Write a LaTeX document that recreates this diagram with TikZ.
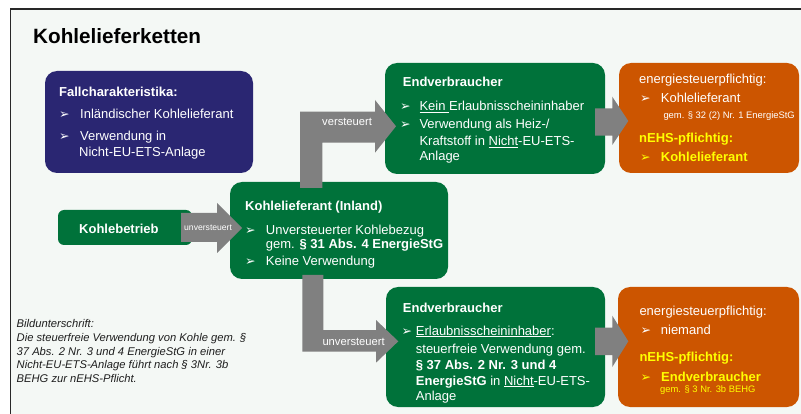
\documentclass[tikz,border=0pt]{standalone}
\usepackage{fontspec}
\setmainfont{Liberation Sans}
\newfontfamily\djv{DejaVu Sans}
\definecolor{bgc}{RGB}{244,248,245}
\definecolor{framec}{RGB}{40,40,40}
\definecolor{navyc}{RGB}{42,38,114}
\definecolor{greenc}{RGB}{0,114,58}
\definecolor{orangec}{RGB}{204,85,0}
\definecolor{grayc}{RGB}{128,128,128}
\definecolor{yellowc}{RGB}{255,255,0}
\definecolor{capc}{RGB}{30,30,30}
\newcommand{\mybul}{{\djv\fontsize{12.5}{12.5}\selectfont ➢}}
\tikzset{
  box/.style={rectangle, rounded corners=12pt, inner sep=0pt, draw=none},
  txt/.style={anchor=base west, inner sep=0pt, text=white, font=\fontsize{13}{13}\selectfont},
  btxt/.style={txt, font=\fontsize{13}{13}\selectfont\bfseries},
  ytxt/.style={btxt, text=yellowc},
  smalltxt/.style={txt, font=\fontsize{9.4}{9.4}\selectfont},
  arrtxt/.style={txt, font=\fontsize{11.2}{11.2}\selectfont},
  captxt/.style={anchor=base west, inner sep=0pt, text=capc, font=\fontsize{11.2}{11.2}\selectfont\itshape},
  blockarrow/.style={fill=grayc, draw=none}
}
\begin{document}
\begin{tikzpicture}[x=1pt,y=-1pt]
\useasboundingbox (0,0) rectangle (801,414);
\fill[white] (0,0) rectangle (801,414);
\fill[bgc] (10.5,9) rectangle (801,414);
\draw[line width=1.3pt, framec] (10.5,414) -- (10.5,9) -- (801,9);

% title
\node[anchor=base west, inner sep=0pt, font=\fontsize{20.7}{20.7}\selectfont\bfseries] (title) at (33,44) {Kohlelieferketten};

% boxes
\node[box, fill=navyc, minimum width=208pt, minimum height=102pt] (fall) at (149,122) {};
\node[box, fill=greenc, rounded corners=6pt, minimum width=134pt, minimum height=35pt] (kb) at (125,227.5) {};
\node[box, fill=greenc, minimum width=218pt, minimum height=97pt] (lief) at (339,230.5) {};
\node[box, fill=greenc, minimum width=220pt, minimum height=111pt] (ev1) at (495,118.5) {};
\node[box, fill=orangec, minimum width=180pt, minimum height=110pt] (or1) at (709,118) {};
\node[box, fill=greenc, minimum width=219pt, minimum height=120pt] (ev2) at (495.5,347) {};
\node[box, fill=orangec, minimum width=181pt, minimum height=120pt] (or2) at (708.5,347) {};

% block arrows
\fill[blockarrow] (181,213) -- (217,213) -- (217,203) -- (242,228) -- (217,253) -- (217,242) -- (181,242) -- cycle;
\fill[blockarrow] (300,188) -- (300,111.7) -- (375,111.7) -- (375,100) -- (396,126.3) -- (375,152.7) -- (375,142.7) -- (322.3,142.7) -- (322.3,188) -- cycle;
\fill[blockarrow] (302.3,275) -- (302.3,351.7) -- (376,351.7) -- (376,362.7) -- (398.3,341.3) -- (376,320) -- (376,330) -- (323.3,330) -- (323.3,275) -- cycle;
\fill[blockarrow] (595,108.3) -- (612.3,108.3) -- (612.3,96.7) -- (628.3,121) -- (612.3,145) -- (612.3,135.7) -- (595,135.7) -- cycle;
\fill[blockarrow] (595,327.5) -- (612.3,327.5) -- (612.3,315.7) -- (628.3,341.3) -- (612.3,367) -- (612.3,355) -- (595,355) -- cycle;

% arrow labels
\node[txt, font=\fontsize{8.6}{8.6}\selectfont] (l1) at (184,231) {unversteuert};
\node[arrtxt] (l2) at (322,126) {versteuert};
\node[arrtxt] (l3) at (322.3,345) {unversteuert};

% Fallcharakteristika
\node[btxt] (f0) at (59,97) {Fallcharakteristika:};
\node[txt] (f1b) at (59,119) {\mybul};
\node[txt] (f1) at (80,119) {Inländischer Kohlelieferant};
\node[txt] (f2b) at (59,140.5) {\mybul};
\node[txt] (f2) at (80,140.5) {Verwendung in};
\node[txt] (f3) at (79,156.5) {Nicht-EU-ETS-Anlage};

% Kohlebetrieb
\node[btxt] (kbt) at (79,233.3) {Kohlebetrieb};

% Kohlelieferant
\node[btxt] (k0) at (245,211) {Kohlelieferant (Inland)};
\node[txt] (k1b) at (245,234.3) {\mybul};
\node[txt] (k1) at (265.7,234.3) {Unversteuerter Kohlebezug};
\node[txt] (k2) at (265.7,248.3) {gem. \textbf{§ 31 Abs. 4 EnergieStG}};
\node[txt] (k3b) at (245,266) {\mybul};
\node[txt] (k3) at (265.7,266) {Keine Verwendung};

% Endverbraucher upper
\node[btxt] (e0) at (402.7,87) {Endverbraucher};
\node[txt] (e1b) at (400,110.7) {\mybul};
\node[txt] (e1) at (419.3,110.7) {\underline{Kein }Erlaubnisscheininhaber};
\node[txt] (e2b) at (400,128.5) {\mybul};
\node[txt] (e2) at (419.3,128.5) {Verwendung als Heiz-/};
\node[txt] (e3) at (419.3,145.5) {Kraftstoff in \underline{Nicht}-EU-ETS-};
\node[txt] (e4) at (419.3,161) {Anlage};

% orange upper
\node[txt] (o0) at (639,84) {energiesteuerpflichtig:};
\node[txt] (o1b) at (640,103) {\mybul};
\node[txt] (o1) at (660.7,103) {Kohlelieferant};
\node[smalltxt] (o2) at (663.3,119) {gem. § 32 (2) Nr. 1 EnergieStG};
\node[ytxt] (o3) at (639,142.7) {nEHS-pflichtig:};
\node[ytxt] (o4b) at (640,161.7) {\mybul};
\node[ytxt] (o4) at (660.7,161.7) {Kohlelieferant};

% Endverbraucher lower
\node[btxt] (g0) at (402.7,312.7) {Endverbraucher};
\node[txt] (g1b) at (401.5,335) {\mybul};
\node[txt] (g1) at (415.7,335) {\underline{Erlaubnisscheininhaber}:};
\node[txt] (g2) at (415.7,353.3) {steuerfreie Verwendung gem.};
\node[btxt] (g3) at (415.7,369) {§ 37 Abs. 2 Nr. 3 und 4};
\node[txt] (g4) at (415.7,385) {\textbf{EnergieStG} in \underline{Nicht}-EU-ETS-};
\node[txt] (g5) at (415.7,400.7) {Anlage};

% orange lower
\node[txt] (p0) at (639.3,316) {energiesteuerpflichtig:};
\node[txt] (p1b) at (640.3,334.3) {\mybul};
\node[txt] (p1) at (660.7,334.3) {niemand};
\node[ytxt] (p2) at (639.3,361.7) {nEHS-pflichtig:};
\node[ytxt] (p3b) at (640.3,381.7) {\mybul};
\node[ytxt] (p3) at (661,381.7) {Endverbraucher};
\node[smalltxt, text=yellowc] (p4) at (660,392.7) {gem. § 3 Nr. 3b BEHG};

% caption
\node[captxt] (c1) at (16.5,327.3) {Bildunterschrift:};
\node[captxt] (c2) at (16.5,341.7) {Die steuerfreie Verwendung von Kohle gem. §};
\node[captxt] (c3) at (16.5,355.3) {37 Abs. 2 Nr. 3 und 4 EnergieStG in einer};
\node[captxt] (c4) at (16.5,368.7) {Nicht-EU-ETS-Anlage führt nach § 3Nr. 3b};
\node[captxt] (c5) at (16.5,382.3) {BEHG zur nEHS-Pflicht.};
\end{tikzpicture}
\end{document}
